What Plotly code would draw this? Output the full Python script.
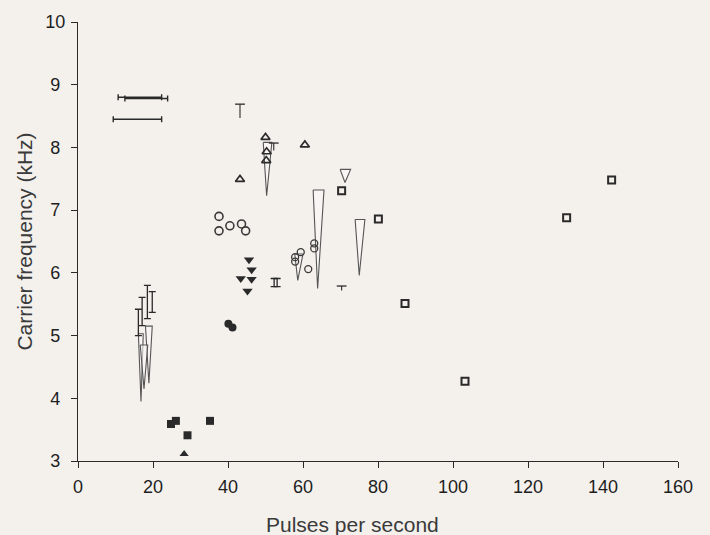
import plotly.graph_objects as go

# ---------------- data ----------------
# open up-triangles
tri_open_x = [50.0, 50.3, 50.2, 60.5, 43.2]
tri_open_y = [8.16, 7.93, 7.79, 8.04, 7.49]
# open squares
sq_open_x = [70.3, 80.1, 87.2, 103.2, 130.3, 142.3]
sq_open_y = [7.31, 6.86, 5.51, 4.27, 6.88, 7.48]
# half-circle ("D") symbols
d_x = [37.6, 37.6, 40.5, 43.6, 44.7]
d_y = [6.90, 6.67, 6.75, 6.78, 6.67]
# open circles
circ_open_x = [59.4, 57.9, 57.9, 61.4, 63.0, 63.0]
circ_open_y = [6.33, 6.25, 6.18, 6.06, 6.47, 6.39]
# filled down-triangles
tri_down_x = [45.6, 46.3, 43.4, 46.3, 45.2]
tri_down_y = [6.21, 6.05, 5.91, 5.90, 5.71]
# filled circles
circ_fill_x = [40.1, 41.2]
circ_fill_y = [5.19, 5.13]
# filled squares
sq_fill_x = [24.8, 26.1, 29.2, 35.2]
sq_fill_y = [3.59, 3.64, 3.41, 3.64]
# filled up-triangle
tri_fill_x = [28.3]
tri_fill_y = [3.11]

# vertical range bars (low, high)
vbar_x = [18.5, 19.8, 17.1, 16.1, 52.3, 53.1]
vbar_lo = [5.27, 5.37, 5.16, 5.00, 5.78, 5.78]
vbar_hi = [5.80, 5.70, 5.61, 5.42, 5.91, 5.91]
# "T" symbols (stem bottom, cap top)
t_x = [43.2, 52.2, 70.3]
t_lo = [8.47, 7.95, 5.72]
t_hi = [8.69, 8.07, 5.79]
# horizontal range bars
hbar_y = [8.80, 8.78, 8.45]
hbar_lo = [10.7, 12.5, 9.4]
hbar_hi = [22.3, 23.9, 22.3]
# wedges (frequency sweeps): top-left x, top-right x, top y, tip x, tip y
wedge_xl = [49.4, 57.8, 62.7, 69.9, 73.9, 18.0, 16.1, 16.6]
wedge_xr = [51.7, 60.0, 65.6, 72.7, 76.5, 19.8, 17.4, 18.6]
wedge_top = [8.08, 6.30, 7.32, 7.65, 6.85, 5.15, 5.03, 4.85]
wedge_tipx = [50.3, 58.6, 63.9, 71.2, 75.0, 18.9, 16.8, 17.6]
wedge_tipy = [7.23, 5.88, 5.75, 7.44, 5.96, 4.24, 3.95, 4.15]

x_ticks = [0, 20, 40, 60, 80, 100, 120, 140, 160]
y_ticks = [3, 4, 5, 6, 7, 8, 9, 10]

INK = "#2a2a2a"
BG = "#f4f1ed"

fig = go.Figure()

# wedges
for xl, xr, yt, tx, ty in zip(wedge_xl, wedge_xr, wedge_top, wedge_tipx, wedge_tipy):
    fig.add_trace(go.Scatter(
        x=[xl, xr, tx, xl], y=[yt, yt, ty, yt], mode="lines",
        line=dict(color="#555555", width=1.1), fill="toself",
        fillcolor="rgba(250,248,245,0.6)", hoverinfo="skip"))

# vertical range bars
vc = [(l + h) / 2 for l, h in zip(vbar_lo, vbar_hi)]
fig.add_trace(go.Scatter(
    x=vbar_x, y=vc, mode="markers", marker=dict(size=1, color=INK, opacity=0),
    error_y=dict(type="data", symmetric=False,
                 array=[h - c for h, c in zip(vbar_hi, vc)],
                 arrayminus=[c - l for l, c in zip(vbar_lo, vc)],
                 color=INK, thickness=1.3, width=3.5)))

# T symbols: stems + top caps
stem_x, stem_y = [], []
for x, lo, hi in zip(t_x, t_lo, t_hi):
    stem_x += [x, x, None]
    stem_y += [lo, hi, None]
fig.add_trace(go.Scatter(x=stem_x, y=stem_y, mode="lines",
                         line=dict(color=INK, width=1.1), hoverinfo="skip"))
fig.add_trace(go.Scatter(x=t_x, y=t_hi, mode="markers",
                         marker=dict(symbol="line-ew-open", size=7, color=INK,
                                     line=dict(width=1.3, color=INK))))

# horizontal range bars
hc = [(l + h) / 2 for l, h in zip(hbar_lo, hbar_hi)]
fig.add_trace(go.Scatter(
    x=hc, y=hbar_y, mode="markers", marker=dict(size=1, color=INK, opacity=0),
    error_x=dict(type="data", symmetric=False,
                 array=[h - c for h, c in zip(hbar_hi, hc)],
                 arrayminus=[c - l for l, c in zip(hbar_lo, hc)],
                 color=INK, thickness=1.4, width=3)))

fig.add_trace(go.Scatter(x=tri_open_x, y=tri_open_y, mode="markers",
    marker=dict(symbol="triangle-up-open", size=8, color=INK, line=dict(width=1.6))))
fig.add_trace(go.Scatter(x=sq_open_x, y=sq_open_y, mode="markers",
    marker=dict(symbol="square-open", size=7, color=INK, line=dict(width=2))))
fig.add_trace(go.Scatter(x=d_x, y=d_y, mode="markers",
    marker=dict(symbol="circle-open", size=8, color="#3a3a3a", line=dict(width=1.6))))
fig.add_trace(go.Scatter(x=circ_open_x, y=circ_open_y, mode="markers",
    marker=dict(symbol="circle-open", size=7, color="#3a3a3a", line=dict(width=1.3))))
fig.add_trace(go.Scatter(x=tri_down_x, y=tri_down_y, mode="markers",
    marker=dict(symbol="triangle-down", size=9, color=INK)))
fig.add_trace(go.Scatter(x=circ_fill_x, y=circ_fill_y, mode="markers",
    marker=dict(symbol="circle", size=8, color=INK)))
fig.add_trace(go.Scatter(x=sq_fill_x, y=sq_fill_y, mode="markers",
    marker=dict(symbol="square", size=8, color=INK)))
fig.add_trace(go.Scatter(x=tri_fill_x, y=tri_fill_y, mode="markers",
    marker=dict(symbol="triangle-up", size=8, color=INK)))

fig.update_layout(
    width=710, height=535, showlegend=False,
    paper_bgcolor=BG, plot_bgcolor=BG,
    margin=dict(l=78, r=32, t=20, b=74),
    font=dict(family="Liberation Sans, Arial, Helvetica", color=INK, size=15),
    annotations=[dict(text="Pulses per second", xref="paper", yref="paper",
                      x=0.457, y=-0.113, xanchor="center", yanchor="top",
                      showarrow=False, font=dict(size=21, color="#3a3a3a"))],
)
fig.update_xaxes(
    range=[0, 160], tickvals=x_ticks, ticktext=[str(v) for v in x_ticks],
    showgrid=False, zeroline=False, showline=True, linecolor=INK, linewidth=1.3,
    ticks="outside", ticklen=6, tickwidth=1.3, tickcolor=INK,
    tickfont=dict(size=18, color="#1e1e1e"), ticklabelstandoff=3)
fig.update_yaxes(
    range=[3, 10], tickvals=y_ticks,
    ticktext=[str(v) if v >= 10 else str(v) + "\u2008" for v in y_ticks],
    showgrid=False, zeroline=False, showline=True, linecolor=INK, linewidth=1.3,
    ticks="outside", ticklen=6, tickwidth=1.3, tickcolor=INK,
    tickfont=dict(size=18, color="#1e1e1e"), ticklabelstandoff=2,
    title=dict(text="Carrier frequency (kHz)", font=dict(size=21, color="#3a3a3a"), standoff=6))

fig.write_html("out.html", config={"displayModeBar": False},
               post_script="document.body.style.margin='0';document.body.style.background='#f4f1ed';")
